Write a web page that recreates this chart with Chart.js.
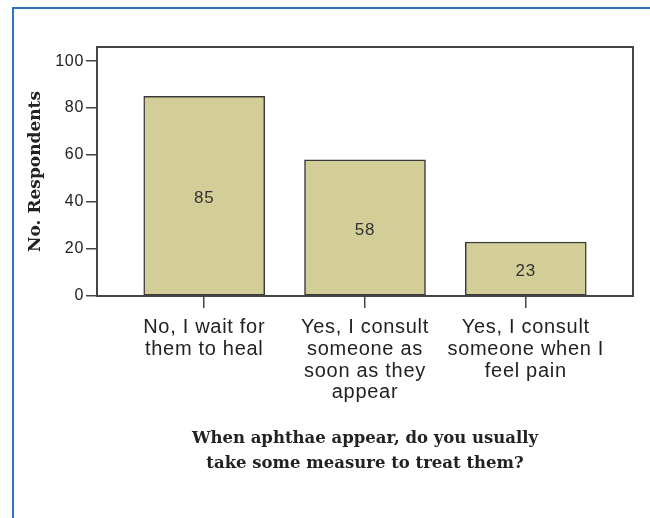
<!DOCTYPE html>
<html>
<head>
<meta charset="utf-8">
<script src="https://cdn.jsdelivr.net/npm/chart.js@4/dist/chart.umd.min.js"></script>
<style>
    body { margin: 0; background: #fff; }
    #wrap { position: relative; width: 650px; height: 518px; overflow: hidden; }
    #frame {
        position: absolute; left: 12px; top: 7px; width: 700px; height: 600px;
        border-left: 2px solid #2f74ba; border-top: 2px solid #2f74ba;
    }
    #chart { position: absolute; left: 0; top: 0; }
</style>
</head>
<body>
<div id="wrap">
    <div id="frame"></div>
    <canvas id="chart" width="650" height="518"></canvas>
</div>
<script>
// --- Данные ---
const answers = [
    ['No, I wait for', 'them to heal'],
    ['Yes, I consult', 'someone as', 'soon as they', 'appear'],
    ['Yes, I consult', 'someone when I', 'feel pain']
];
const respondents = [85, 58, 23];
const yTicks = [0, 20, 40, 60, 80, 100];
const yTitle = 'No. Respondents';
const xTitle = ['When aphthae appear, do you usually', 'take some measure to treat them?'];

const textColor = '#222';
const lineColor = '#444';

// заголовки осей рисуются без разрядки, подписи делений и значений — с разрядкой
const spacingPlugin = {
    id: 'spacing',
    beforeDraw(chart) {
        chart.ctx.letterSpacing = '0px';
    },
    afterDatasetsDraw(chart) {
        chart.ctx.letterSpacing = '0.7px';
    }
};

// рамка вокруг области графика
const boxPlugin = {
    id: 'box',
    afterDraw(chart) {
        const { ctx, chartArea: a } = chart;
        ctx.save();
        ctx.strokeStyle = lineColor;
        ctx.lineWidth = 2;
        ctx.strokeRect(a.left, a.top, a.right - a.left, a.bottom - a.top);
        ctx.restore();
    }
};

// подписи значений в середине столбцов
const valuePlugin = {
    id: 'values',
    afterDatasetsDraw(chart) {
        const { ctx } = chart;
        const meta = chart.getDatasetMeta(0);
        ctx.save();
        ctx.letterSpacing = '0.7px';
        ctx.fillStyle = '#333';
        ctx.font = '17px "Liberation Sans", Arial, sans-serif';
        ctx.textAlign = 'center';
        ctx.textBaseline = 'middle';
        meta.data.forEach((bar, i) => {
            ctx.fillText(String(respondents[i]), bar.x, (bar.y + bar.base) / 2 + 3);
        });
        ctx.restore();
    }
};

const ctx = document.getElementById('chart').getContext('2d');
new Chart(ctx, {
    type: 'bar',
    data: {
        datasets: [{
            data: respondents.map((v, i) => ({ x: i, y: v })),
            backgroundColor: '#d3ce98',
            borderColor: '#3a3a3a',
            borderWidth: 1.5,
            borderSkipped: false,
            barThickness: 121
        }]
    },
    options: {
        responsive: false,
        devicePixelRatio: 1,
        animation: false,
        layout: { padding: { top: 47, right: 17, left: 0, bottom: 0 } },
        plugins: { legend: { display: false }, tooltip: { enabled: false } },
        scales: {
            x: {
                type: 'linear',
                min: -0.667,
                max: 2.667,
                offset: false,
                bounds: 'data',
                afterFit(scale) { scale.height = 222; },
                afterDataLimits(scale) { scale.min = -0.667; scale.max = 2.667; },
                afterBuildTicks(scale) { scale.ticks = answers.map((a, i) => ({ value: i })); },
                grid: { offset: false, drawOnChartArea: false, tickLength: 12, color: lineColor, lineWidth: 1.5 },
                border: { display: true, color: lineColor, width: 2 },
                ticks: {
                    z: 1,
                    padding: 9,
                    color: textColor,
                    font: { family: '"Liberation Sans", Arial, sans-serif', size: 20, lineHeight: 1.08 },
                    callback: (v) => answers[v]
                },
                title: {
                    display: true,
                    text: xTitle,
                    color: textColor,
                    font: { family: '"DejaVu Serif", serif', size: 16.5, weight: 'bold', lineHeight: 1.52 },
                    padding: { bottom: 42 }
                }
            },
            y: {
                min: 0,
                max: 106,
                afterFit(scale) { scale.width = 97; },
                afterBuildTicks(scale) { scale.ticks = yTicks.map(v => ({ value: v })); },
                grid: { drawOnChartArea: false, tickLength: 11, color: lineColor, lineWidth: 1.5 },
                border: { display: true, color: lineColor, width: 2 },
                ticks: {
                    z: 1,
                    padding: 2,
                    color: textColor,
                    font: { family: '"Liberation Sans", Arial, sans-serif', size: 16 }
                },
                title: {
                    display: true,
                    text: yTitle,
                    color: textColor,
                    font: { family: '"DejaVu Serif", serif', size: 17, weight: 'bold' },
                    padding: { top: 25 }
                }
            }
        }
    },
    plugins: [spacingPlugin, boxPlugin, valuePlugin]
});
</script>
</body>
</html>
